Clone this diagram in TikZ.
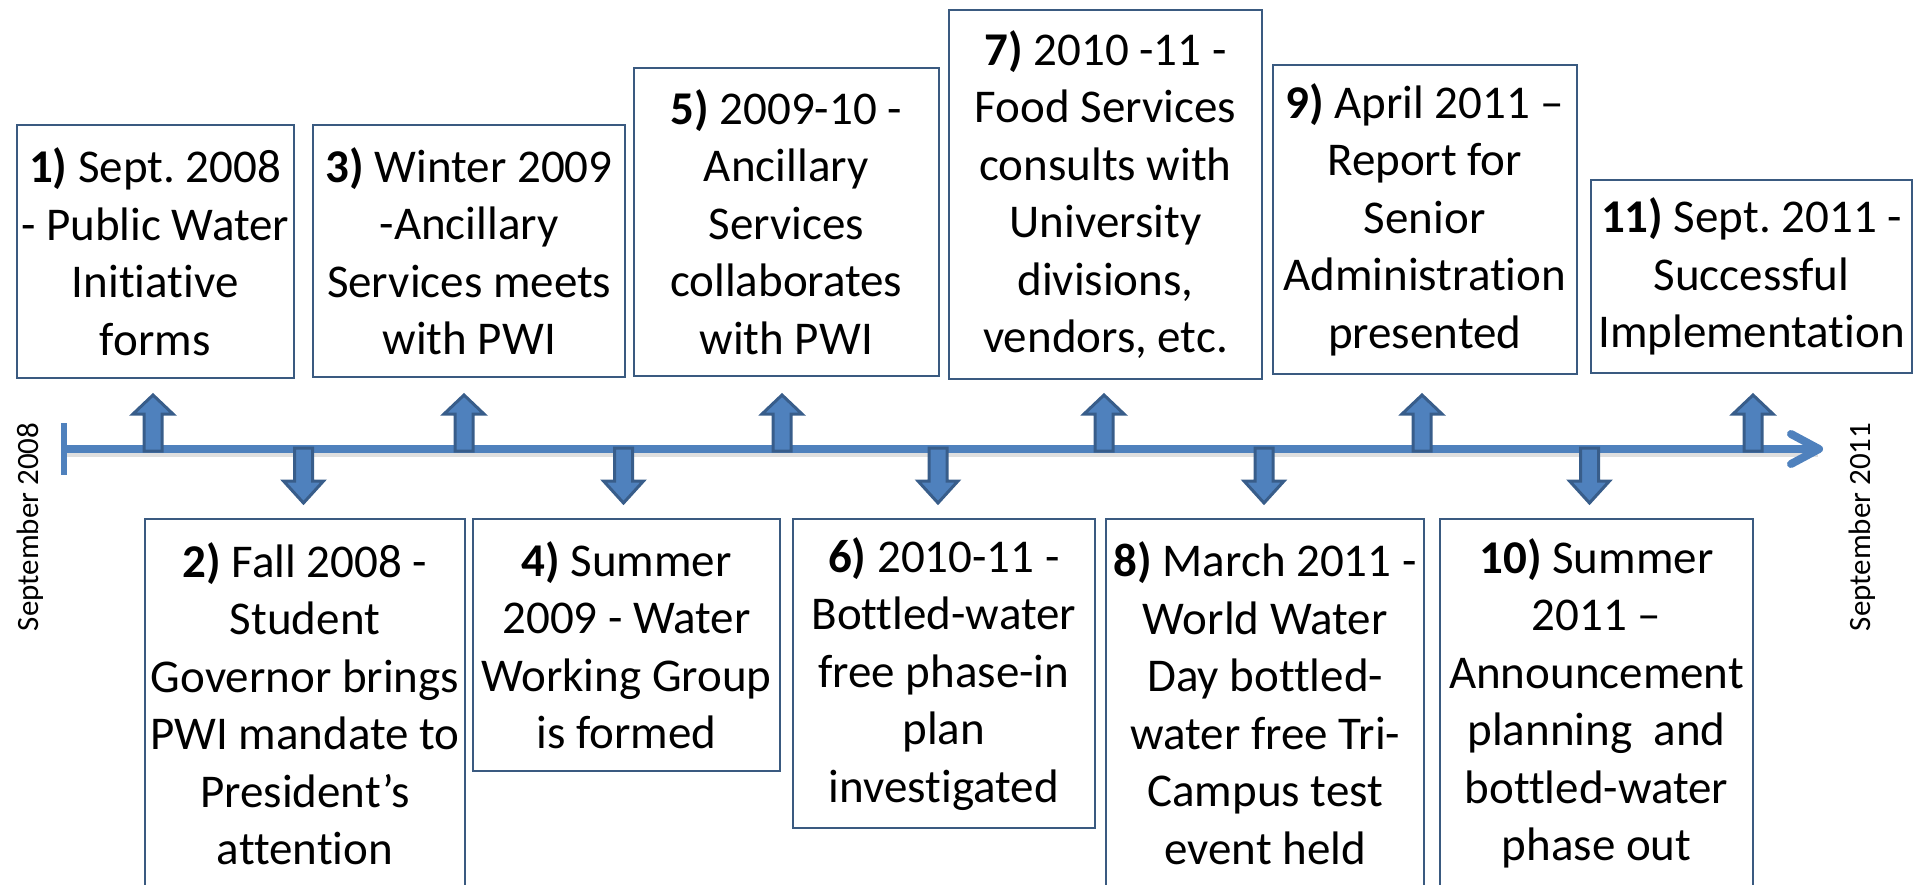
\documentclass[tikz,border=0pt]{standalone}
\usepackage{fontspec}
\setmainfont{Carlito}[Ligatures={NoCommon}]
\frenchspacing
\definecolor{tlblue}{HTML}{4F81BD}
\definecolor{tldark}{HTML}{385D8A}
\definecolor{boxline}{HTML}{3A5A80}
\begin{document}
\begin{tikzpicture}[x=1pt,y=-1pt,
  evbox/.style={draw=boxline, line width=2pt, fill=white, align=center,
    inner sep=0pt, anchor=north west,
    font=\fontsize{47}{57.5}\selectfont\frenchspacing},
  sidelabel/.style={rotate=90, font=\fontsize{31}{36}\selectfont},
  blockarrow/.style={draw=tldark, fill=tlblue, line width=3pt, line join=miter},
  uparw/.pic={\path[blockarrow] (-9,2) -- (-9,-35) -- (-20,-35) -- (0,-54) -- (20,-35) -- (9,-35) -- (9,2) -- cycle;},
  dnarw/.pic={\path[blockarrow] (-9,-1) -- (-9,32) -- (-20,32) -- (0,54) -- (20,32) -- (9,32) -- (9,-1) -- cycle;}
]
\useasboundingbox (0,0) rectangle (1913,885);

% timeline
\coordinate (tl0) at (64,449);
\coordinate (tl1) at (1816,449);
\coordinate (tltip) at (1819,449);
\draw[gray, opacity=0.25, line width=8pt] ([shift={(2,4)}]tl0) -- ([shift={(2,4)}]tl1);
\draw[tlblue, line width=8pt] (tl0) -- (tl1);
\draw[tlblue, line width=6pt] (64,423) -- (64,475);
\draw[tlblue, line width=8pt, line cap=round, line join=round] (1791,434) -- (tltip) -- (1791,464);

% top boxes
\node[evbox, minimum width=277pt, minimum height=252.4pt] (b1) at (15.7,124.3)
  {\textbf{1)} Sept. 2008\\- Public Water\\Initiative\\forms};
\node[evbox, minimum width=311.7pt, minimum height=251pt] (b3) at (312.3,124.5)
  {\textbf{3)} Winter 2009\\-Ancillary\\Services meets\\with PWI};
\node[evbox, minimum width=305pt, minimum height=308.3pt] (b5) at (632.7,66.7)
  {\textbf{5)} 2009-10 -\\Ancillary\\Services\\collaborates\\with PWI};
\node[evbox, minimum width=312.4pt, minimum height=369pt] (b7) at (948.3,9)
  {\textbf{7)} 2010 -11 -\\Food Services\\consults with\\University\\divisions,\\vendors, etc.};
\node[evbox, minimum width=304pt, minimum height=309pt] (b9) at (1271.7,64)
  {\textbf{9)} April 2011 --\\Report for\\Senior\\Administration\\presented};
\node[evbox, minimum width=321pt, minimum height=192.4pt] (b11) at (1590,179.3)
  {\textbf{11)} Sept. 2011 -\\Successful\\Implementation};

% bottom boxes
\node[evbox, minimum width=320pt, minimum height=369pt] (b2) at (144,518.3)
  {\textbf{2)} Fall 2008 -\\Student\\Governor brings\\PWI mandate to\\President’s\\attention};
\node[evbox, minimum width=307.6pt, minimum height=251.7pt] (b4) at (471.7,518.3)
  {\textbf{4)} Summer\\2009 - Water\\Working Group\\is formed};
\node[evbox, minimum width=302.3pt, minimum height=309.3pt] (b6) at (791.7,518)
  {\textbf{6)} 2010-11 -\\Bottled-water\\free phase-in\\plan\\investigated};
\node[evbox, minimum width=318.3pt, minimum height=369pt] (b8) at (1105,517.7)
  {\textbf{8)} March 2011 -\\World Water\\Day bottled-\\water free Tri-\\Campus test\\event held};
\node[evbox, minimum width=312.4pt, minimum height=369pt] (b10) at (1439.3,518)
  {\textbf{10)} Summer\\2011 --\\Announcement\\planning\ \ and\\bottled-water\\phase out};

% block arrows
\pic at (153,449) {uparw};
\pic at (464,449) {uparw};
\pic at (782,449) {uparw};
\pic at (1104,449) {uparw};
\pic at (1422,449) {uparw};
\pic at (1753,449) {uparw};
\pic at (303.5,449) {dnarw};
\pic at (623.5,449) {dnarw};
\pic at (938,449) {dnarw};
\pic at (1264,449) {dnarw};
\pic at (1589.5,449) {dnarw};

% side labels
\node[sidelabel] (startlbl) at (30,527) {September 2008};
\node[sidelabel] (endlbl) at (1862,527) {September 2011};
\end{tikzpicture}
\end{document}
